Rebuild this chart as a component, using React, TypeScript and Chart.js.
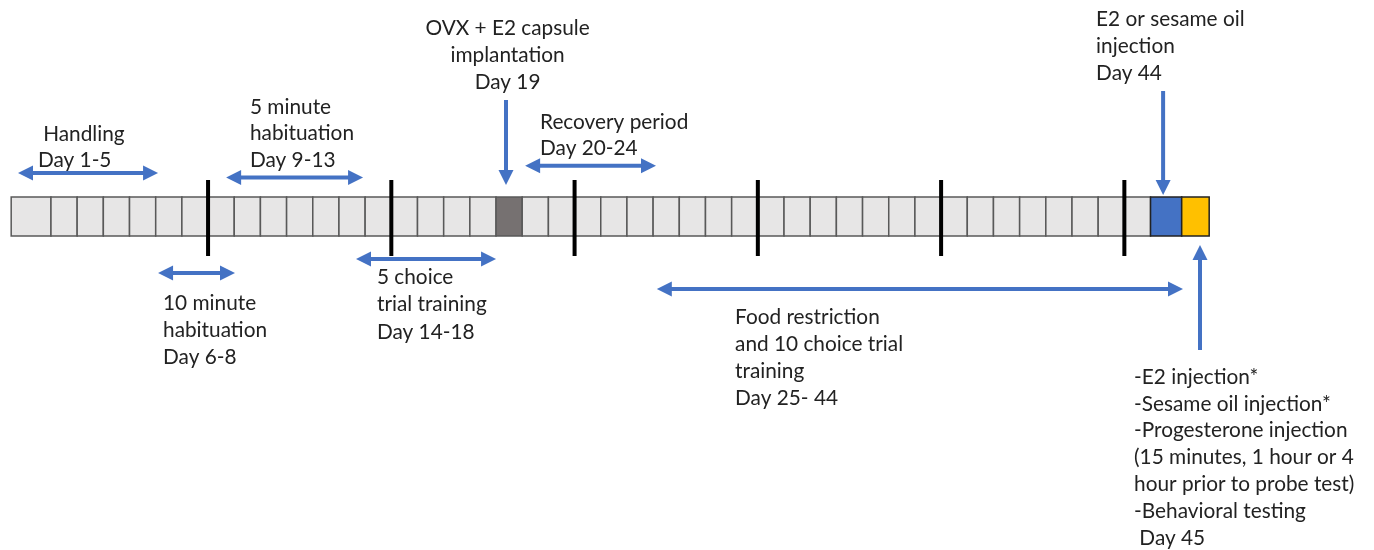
import React, { useEffect, useRef } from "react";
import { Chart, registerables } from "chart.js";

Chart.register(...registerables);

// ---------- DATA (day units) ----------
const DAYS = [
  1, 2, 3, 4, 5, 6, 7, 8, 9, 10, 11, 12, 13, 14, 15, 16, 17, 18, 19, 20, 21, 22,
  23, 24, 25, 26, 27, 28, 29, 30, 31, 32, 33, 34, 35, 36, 37, 38, 39, 40, 41, 42,
  43, 44, 45,
];
// boxes that the original draws wider than one day
const WIDE_BOX_DAYS = [1, 44, 45];
const WIDE_BOX_SPANS = [1.52, 1.19, 1.05];
const SURGERY_DAY = 19;
const INJECTION_DAY = 44;
const TEST_DAY = 45;
const WEEK_ENDS = [7, 14, 21, 28, 35, 42];

const PHASE_NAMES = [
  "Handling",
  "10 minute habituation",
  "5 minute habituation",
  "5 choice trial training",
  "Recovery period",
  "Food restriction",
];
const PHASE_FROM = [-0.26, 5.09, 7.69, 12.65, 19.11, 24.14];
const PHASE_TO = [5.09, 8.03, 12.92, 18.0, 24.11, 44.24];

const EVENT_NAMES = ["OVX + E2 capsule", "E2 or sesame oil", "Testing"];
const EVENT_DAYS = [18.38, 43.48, 44.89];

const LABEL_LINES = [
  [" Handling", "Day 1-5"],
  ["5 minute", "habituation", "Day 9-13"],
  ["OVX + E2 capsule", "implantation", "Day 19"],
  ["Recovery period", "Day 20-24"],
  ["E2 or sesame oil", "injection", "Day 44"],
  ["10 minute", "habituation", "Day 6-8"],
  ["5 choice", "trial training", "Day 14-18"],
  ["Food restriction", "and 10 choice trial", "training", "Day 25- 44"],
  [
    "-E2 injection*",
    "-Sesame oil injection*",
    "-Progesterone injection",
    "(15 minutes, 1 hour or 4",
    "hour prior to probe test)",
    "-Behavioral testing",
    " Day 45",
  ],
];
const LABEL_DAYS = [0.5, 8.6, 18.44, 19.68, 40.92, 5.28, 13.45, 27.13, 42.37];
const LABEL_ALIGN = ["left", "left", "center", "left", "left", "left", "left", "left", "left"];

// ---------- LAYOUT (vertical placement, px) ----------
const ROW_TOP = 197;
const ROW_BOTTOM = 236;
const WEEK_TOP = 180;
const WEEK_BOTTOM = 256;
const PHASE_Y = [173, 273, 177.5, 259, 165.7, 289];
const EVENT_Y0 = [100, 91, 350];
const EVENT_Y1 = [185, 195, 245];
const LABEL_Y = [134, 107, 28, 122, 19, 303, 277, 317, 377];
const LINE_H = [26, 26.5, 27, 26, 27, 27, 27.5, 27, 26.8];

const BLUE = "#4472C4";
const FONT = '20.8px Lato, "Open Sans", sans-serif';

function arrowHead(ctx: CanvasRenderingContext2D, x: number, y: number, dx: number, dy: number) {
  const len = 15;
  const half = 7.5;
  const px = -dy;
  const py = dx;
  ctx.beginPath();
  ctx.moveTo(x, y);
  ctx.lineTo(x - dx * len + px * half, y - dy * len + py * half);
  ctx.lineTo(x - dx * len - px * half, y - dy * len - py * half);
  ctx.closePath();
  ctx.fill();
}

function boxRange(d: number): [number, number] {
  const w = WIDE_BOX_DAYS.indexOf(d);
  if (d === 1) return [1 - WIDE_BOX_SPANS[w], 1];
  // boxes after a wide one shift
  let start = d - 1;
  for (let k = 0; k < WIDE_BOX_DAYS.length; k++) {
    const wd = WIDE_BOX_DAYS[k];
    if (wd > 1 && wd < d) start += WIDE_BOX_SPANS[k] - 1;
  }
  const span = w >= 0 ? WIDE_BOX_SPANS[w] : 1;
  return [start, start + span];
}

const diagramPlugin = {
  id: "diagram",
  afterDatasetsDraw(chart: any) {
    const ctx: CanvasRenderingContext2D = chart.ctx;
    const xs = chart.scales.x;
    const ys = chart.scales.y;
    const X = (d: number) => xs.getPixelForValue(d);
    const Y = (v: number) => ys.getPixelForValue(v);
    ctx.save();

    // day boxes
    DAYS.forEach((d) => {
      const [a, b] = boxRange(d);
      const x0 = X(a);
      const x1 = X(b);
      let fill = "#E7E6E6";
      let stroke = "#595959";
      if (d === SURGERY_DAY) fill = "#767171";
      if (d === INJECTION_DAY) {
        fill = "#4472C4";
        stroke = "#222222";
      }
      if (d === TEST_DAY) {
        fill = "#FFC000";
        stroke = "#222222";
      }
      ctx.fillStyle = fill;
      ctx.fillRect(x0, Y(ROW_TOP), x1 - x0, Y(ROW_BOTTOM) - Y(ROW_TOP));
      ctx.strokeStyle = stroke;
      ctx.lineWidth = 1.5;
      ctx.strokeRect(x0, Y(ROW_TOP), x1 - x0, Y(ROW_BOTTOM) - Y(ROW_TOP));
    });

    // week separators
    ctx.fillStyle = "#000000";
    WEEK_ENDS.forEach((d) => {
      const x = X(d);
      ctx.fillRect(x - 2, Y(WEEK_TOP), 4, Y(WEEK_BOTTOM) - Y(WEEK_TOP));
    });

    // phase double arrows
    ctx.strokeStyle = BLUE;
    ctx.fillStyle = BLUE;
    ctx.lineWidth = 4;
    PHASE_NAMES.forEach((_, i) => {
      const a = X(PHASE_FROM[i]);
      const b = X(PHASE_TO[i]);
      const y = Y(PHASE_Y[i]);
      ctx.beginPath();
      ctx.moveTo(a + 10, y);
      ctx.lineTo(b - 10, y);
      ctx.stroke();
      arrowHead(ctx, a, y, -1, 0);
      arrowHead(ctx, b, y, 1, 0);
    });

    // event arrows
    EVENT_NAMES.forEach((_, i) => {
      const x = X(EVENT_DAYS[i]);
      const y0 = Y(EVENT_Y0[i]);
      const y1 = Y(EVENT_Y1[i]);
      const dir = y1 > y0 ? 1 : -1;
      ctx.beginPath();
      ctx.moveTo(x, y0);
      ctx.lineTo(x, y1 - dir * 10);
      ctx.stroke();
      arrowHead(ctx, x, y1, 0, dir);
    });

    // labels
    ctx.fillStyle = "#222222";
    ctx.font = FONT;
    ctx.textBaseline = "middle";
    LABEL_LINES.forEach((lines, i) => {
      ctx.textAlign = LABEL_ALIGN[i] as CanvasTextAlign;
      const x = X(LABEL_DAYS[i]);
      lines.forEach((ln, j) => {
        ctx.fillText(ln, x, Y(LABEL_Y[i] + j * LINE_H[i]));
      });
    });
    ctx.restore();
  },
};

export default function App() {
  const ref = useRef<HTMLCanvasElement | null>(null);
  useEffect(() => {
    document.body.style.margin = "0";
    const canvas = ref.current;
    if (!canvas) return;
    const chart = new Chart(canvas, {
      type: "scatter",
      data: { datasets: [{ data: [] }] },
      options: {
        responsive: false,
        animation: false,
        devicePixelRatio: 1,
        layout: { padding: 0 },
        plugins: { legend: { display: false }, tooltip: { enabled: false } },
        scales: {
          x: { type: "linear", display: false, min: -24.8 / 26.18, max: (1374 - 24.8) / 26.18 },
          y: { type: "linear", display: false, min: 0, max: 550, reverse: true },
        },
      },
      plugins: [diagramPlugin],
    });
    return () => chart.destroy();
  }, []);
  return (
    <div style={{ width: 1374, height: 550, background: "#ffffff" }}>
      <canvas ref={ref} width={1374} height={550} />
    </div>
  );
}
